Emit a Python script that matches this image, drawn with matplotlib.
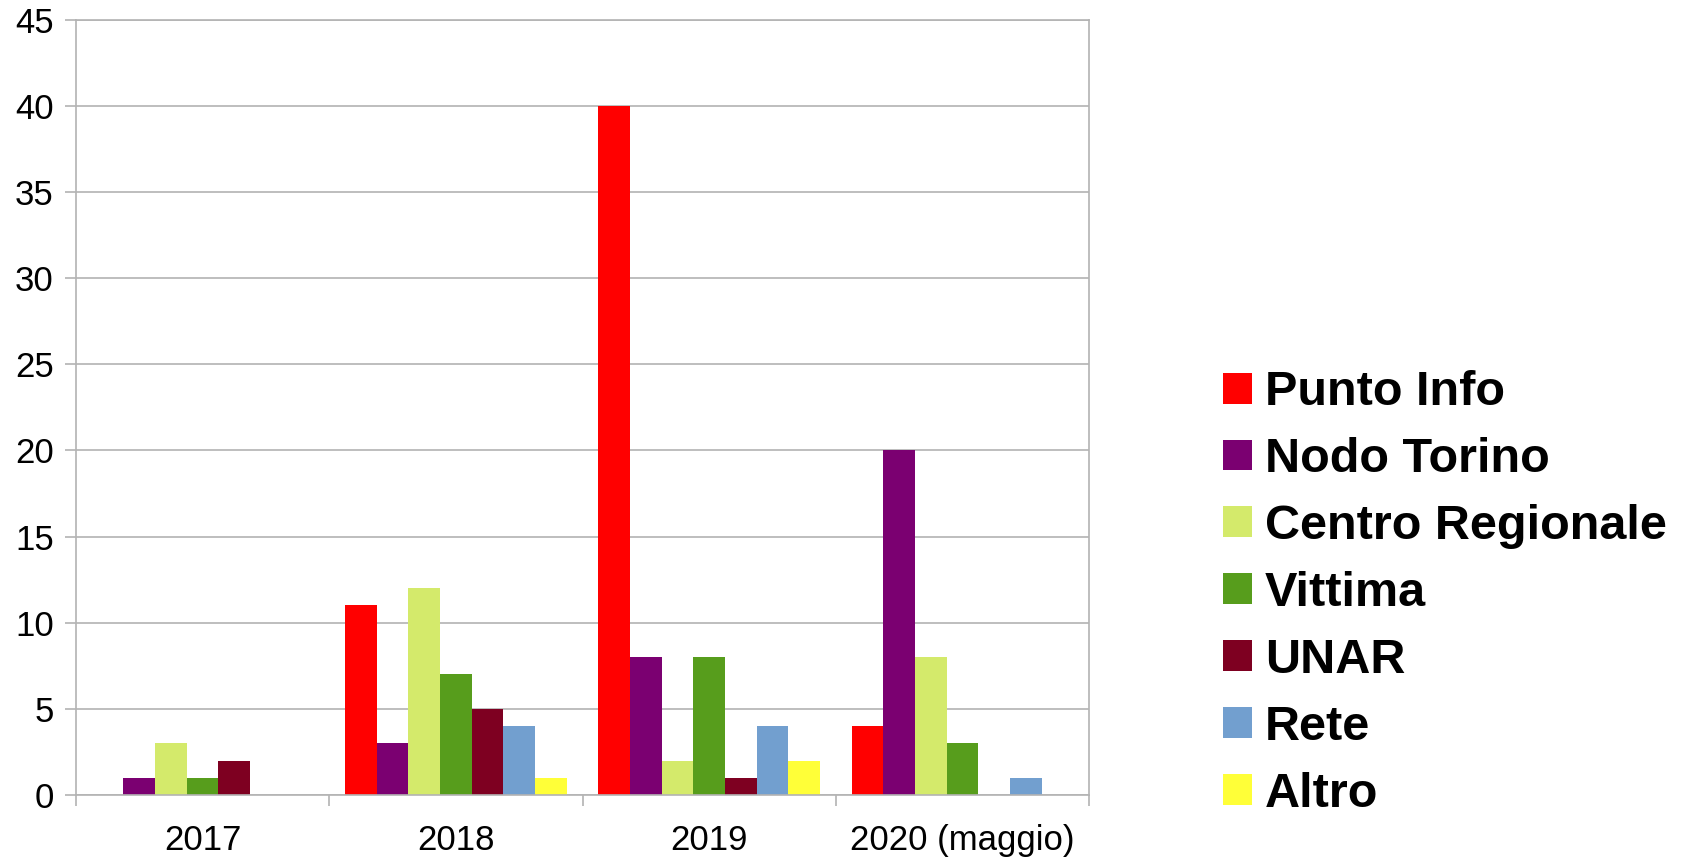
import numpy as np
import matplotlib.pyplot as plt
from matplotlib.patches import Patch

# segnalazioni per anno e canale
anni = ["2017", "2018", "2019", "2020 (maggio)"]
serie = ["Punto Info", "Nodo Torino", "Centro Regionale", "Vittima", "UNAR", "Rete", "Altro"]
punto_info = [0, 11, 40, 4]
nodo_torino = [1, 3, 8, 20]
centro_regionale = [3, 12, 2, 8]
vittima = [1, 7, 8, 3]
unar = [2, 5, 1, 0]
rete = [0, 4, 4, 1]
altro = [0, 1, 2, 0]
valori = [punto_info, nodo_torino, centro_regionale, vittima, unar, rete, altro]
colori = ["#ff0000", "#7b0071", "#d4ea6b", "#579d1c", "#7e0021", "#729fcf", "#ffff38"]

plt.rcParams['font.family'] = ['Liberation Sans', 'DejaVu Sans']

fig = plt.figure(figsize=(16.86, 8.59), dpi=100)
ax = fig.add_axes([0.045, 0.0745, 0.601, 0.9025])

x = np.arange(len(anni))
w = 0.125
for j, (vals, col) in enumerate(zip(valori, colori)):
    ax.bar(x + (j - 3) * w, vals, width=w, color=col, linewidth=0, zorder=2)

ax.set_xlim(-0.5, len(anni) - 0.5)
ax.set_ylim(0, 45)
ax.set_yticks(range(0, 46, 5))
ax.yaxis.grid(True, color="#b3b3b3", linewidth=1.2, zorder=0)
ax.set_axisbelow(True)

# tacche ai bordi delle categorie, etichette al centro
ax.set_xticks(np.arange(-0.5, len(anni), 1.0))
ax.set_xticklabels([])
ax.set_xticks(x, minor=True)
ax.set_xticklabels(anni, minor=True)
ax.tick_params(axis='x', which='major', length=8, width=1.2, color="#b3b3b3")
ax.tick_params(axis='x', which='minor', length=0, pad=21, labelsize=25)
ax.tick_params(axis='y', length=8, width=1.2, color="#b3b3b3", pad=8, labelsize=25)

for s in ax.spines.values():
    s.set_color("#b3b3b3")
    s.set_linewidth(1.2)

handles = [Patch(facecolor=c, edgecolor='none') for c in colori]
fig.legend(handles, serie, loc='center left', bbox_to_anchor=(0.7254, 0.3092),
           frameon=False, borderpad=0, borderaxespad=0,
           handlelength=0.6, handleheight=0.6, handletextpad=0.26,
           labelspacing=0.45, prop={'weight': 'bold', 'size': 35})

fig.savefig("out.png", dpi=100)
